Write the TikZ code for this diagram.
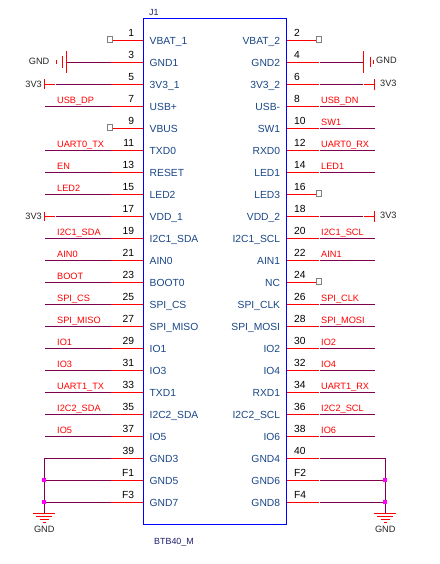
\documentclass[tikz,border=0pt]{standalone}
\usepackage{fontspec}
\setmainfont{Liberation Sans}
\definecolor{pinred}{RGB}{255,0,0}
\definecolor{wirepurple}{RGB}{128,0,80}
\definecolor{boxblue}{RGB}{0,0,255}
\definecolor{pintext}{RGB}{25,70,135}
\definecolor{navytext}{RGB}{30,30,110}
\definecolor{nctext}{RGB}{128,128,128}
\definecolor{dotpink}{RGB}{255,0,255}
\tikzset{
  pinline/.style={draw=pinred,line width=1pt},
  wire/.style={draw=wirepurple,line width=1pt},
  symbar/.style={draw=pinred,line width=1pt},
  pinname/.style={font=\fontsize{10.3}{12}\selectfont,text=pintext,inner sep=0pt},
  pinnum/.style={font=\fontsize{10.3}{12}\selectfont,text=black,inner sep=0pt},
  netlabel/.style={font=\fontsize{9.2}{11}\selectfont,text=pinred,inner sep=0pt,anchor=base west},
  powerlabel/.style={font=\fontsize{9.2}{11}\selectfont,text=black!85,inner sep=0pt},
  ncbox/.style={draw=nctext,line width=0.8pt,fill=white,minimum size=5.4pt,inner sep=0pt,rectangle},
  jdot/.style={fill=dotpink,draw=none,minimum size=4pt,inner sep=0pt,rectangle},
  titletext/.style={font=\fontsize{8.9}{11}\selectfont,text=navytext,inner sep=0pt,anchor=base west},
}
% row geometry: y = 40.3 + 22*row
\newcommand{\rowy}[1]{\pgfmathsetmacro{\ry}{40.3+22*#1}}
\newcommand{\leftpin}[3]{% row, number, name
  \rowy{#1}
  \coordinate (LP#2) at (143.3,\ry);
  \coordinate (LM#2) at (111,\ry);
  \coordinate (LE#2) at (45,\ry);
  \node[pinname,anchor=base west] (LN#2) at (149.5,\ry+4.2) {#3};
  \node[pinnum,anchor=base east] (LT#2) at (134.3,\ry-3.6) {#2};
}
\newcommand{\rightpin}[3]{% row, number, name
  \rowy{#1}
  \coordinate (RP#2) at (286.3,\ry);
  \coordinate (RM#2) at (319,\ry);
  \coordinate (RE#2) at (375,\ry);
  \node[pinname,anchor=base east] (RN#2) at (280.3,\ry+4.2) {#3};
  \node[pinnum,anchor=base west] (RT#2) at (294,\ry-3.6) {#2};
}
\newcommand{\leftnet}[4]{% row, number, name, net
  \leftpin{#1}{#2}{#3}
  \draw[wire] (LE#2) -- (LM#2);
  \draw[pinline] (LM#2) -- (LP#2);
  \node[netlabel] (LL#2) at (57,\ry-3) {#4};
}
\newcommand{\rightnet}[4]{%
  \rightpin{#1}{#2}{#3}
  \draw[pinline] (RP#2) -- (RM#2);
  \draw[wire] ([xshift=1pt]RM#2) -- (RE#2);
  \node[netlabel] (RL#2) at (321,\ry-3) {#4};
}
\newcommand{\leftnc}[3]{%
  \leftpin{#1}{#2}{#3}
  \node[ncbox] (LB#2) at (110,\ry-1) {};
  \draw[pinline] (LB#2.east |- LP#2) -- (LP#2);
}
\newcommand{\rightnc}[3]{%
  \rightpin{#1}{#2}{#3}
  \node[ncbox] (RB#2) at (319,\ry-1) {};
  \draw[pinline] (RP#2) -- (RB#2.west |- RP#2);
}
\newcommand{\leftvcc}[3]{%
  \leftpin{#1}{#2}{#3}
  \coordinate (LV#2) at (44.7,\ry);
  \coordinate (LS#2) at (55.3,\ry);
  \draw[wire] ([xshift=1pt]LS#2) -- (LM#2);
  \draw[pinline] (LM#2) -- (LP#2);
  \draw[symbar] (LV#2) -- (LS#2);
  \draw[symbar] ([yshift=-4.8pt]LV#2) -- ([yshift=4.8pt]LV#2);
  \node[powerlabel,anchor=base east] (LL#2) at (42,\ry+3.2) {3V3};
}
\newcommand{\rightvcc}[3]{%
  \rightpin{#1}{#2}{#3}
  \coordinate (RV#2) at (374.3,\ry);
  \coordinate (RS#2) at (363.5,\ry);
  \draw[pinline] (RP#2) -- (RM#2);
  \draw[wire] ([xshift=1pt]RM#2) -- ([xshift=-1pt]RS#2);
  \draw[symbar] (RS#2) -- (RV#2);
  \draw[symbar] ([yshift=-5.6pt]RV#2) -- ([yshift=5.6pt]RV#2);
  \node[powerlabel,anchor=base west] (RL#2) at (380,\ry+2.4) {3V3};
}
\newcommand{\gndstack}[3]{% id, x, y of top bar
  \coordinate (GT#1) at (#2,#3);
  \draw[symbar] ([xshift=-11pt]GT#1) -- ([xshift=11pt]GT#1);
  \draw[symbar] ([xshift=-8pt,yshift=-3pt]GT#1) -- ([xshift=8pt,yshift=-3pt]GT#1);
  \draw[symbar] ([xshift=-4.6pt,yshift=-6pt]GT#1) -- ([xshift=4.6pt,yshift=-6pt]GT#1);
  \draw[symbar] ([xshift=-1.4pt,yshift=-9pt]GT#1) -- ([xshift=1.4pt,yshift=-9pt]GT#1);
  \node[powerlabel,anchor=base] (GL#1) at (#2,#3+19) {GND};
}
\begin{document}
\begin{tikzpicture}[x=1pt,y=-1pt]
\useasboundingbox (0,0) rectangle (439,564);
\fill[white] (0,0) rectangle (439,564);

% pins, left column
\leftnc{0}{1}{VBAT\_1}
\leftpin{1}{3}{GND1}
\leftvcc{2}{5}{3V3\_1}
\leftnet{3}{7}{USB+}{USB\_DP}
\leftnc{4}{9}{VBUS}
\leftnet{5}{11}{TXD0}{UART0\_TX}
\leftnet{6}{13}{RESET}{EN}
\leftnet{7}{15}{LED2}{LED2}
\leftvcc{8}{17}{VDD\_1}
\leftnet{9}{19}{I2C1\_SDA}{I2C1\_SDA}
\leftnet{10}{21}{AIN0}{AIN0}
\leftnet{11}{23}{BOOT0}{BOOT}
\leftnet{12}{25}{SPI\_CS}{SPI\_CS}
\leftnet{13}{27}{SPI\_MISO}{SPI\_MISO}
\leftnet{14}{29}{IO1}{IO1}
\leftnet{15}{31}{IO3}{IO3}
\leftnet{16}{33}{TXD1}{UART1\_TX}
\leftnet{17}{35}{I2C2\_SDA}{I2C2\_SDA}
\leftnet{18}{37}{IO5}{IO5}
\leftpin{19}{39}{GND3}
\leftpin{20}{F1}{GND5}
\leftpin{21}{F3}{GND7}

% pins, right column
\rightnc{0}{2}{VBAT\_2}
\rightpin{1}{4}{GND2}
\rightvcc{2}{6}{3V3\_2}
\rightnet{3}{8}{USB-}{USB\_DN}
\rightnet{4}{10}{SW1}{SW1}
\rightnet{5}{12}{RXD0}{UART0\_RX}
\rightnet{6}{14}{LED1}{LED1}
\rightnc{7}{16}{LED3}
\rightvcc{8}{18}{VDD\_2}
\rightnet{9}{20}{I2C1\_SCL}{I2C1\_SCL}
\rightnet{10}{22}{AIN1}{AIN1}
\rightnc{11}{24}{NC}
\rightnet{12}{26}{SPI\_CLK}{SPI\_CLK}
\rightnet{13}{28}{SPI\_MOSI}{SPI\_MOSI}
\rightnet{14}{30}{IO2}{IO2}
\rightnet{15}{32}{IO4}{IO4}
\rightnet{16}{34}{RXD1}{UART1\_RX}
\rightnet{17}{36}{I2C2\_SCL}{I2C2\_SCL}
\rightnet{18}{38}{IO6}{IO6}
\rightpin{19}{40}{GND4}
\rightpin{20}{F2}{GND6}
\rightpin{21}{F4}{GND8}

% GND on pin 3
\coordinate (G3a) at (66.7,62.3);
\draw[wire] (G3a) -- (LM3);
\draw[pinline] (LM3) -- (LP3);
\draw[symbar] (66.7,51) -- (66.7,72.7);
\draw[symbar] (62.7,56.5) -- (62.7,68);
\draw[symbar] (56.9,60.5) -- (56.9,64);
\node[powerlabel,anchor=base east] (GND3L) at (49.5,64.7) {GND};

% GND on pin 4
\coordinate (G4a) at (363.5,62.3);
\draw[pinline] (RP4) -- (RM4);
\draw[wire] ([xshift=1pt]RM4) -- (G4a);
\draw[symbar] (363.5,51.5) -- (363.5,73);
\draw[symbar] (370.4,57) -- (370.4,67.5);
\draw[symbar] (373.3,60.5) -- (373.3,64);
\node[powerlabel,anchor=base west] (GND4L) at (376,63.7) {GND};

% left ground bus
\foreach \p in {39,F1,F3}{
  \draw[wire] (44.3,0 |- LP\p) -- (LM\p);
  \draw[pinline] (LM\p) -- (LP\p);
}
\coordinate (BL) at (44.3,513.3);
\draw[wire] (44.3,0 |- LP39) -- (BL);
\gndstack{L}{44.3}{513.3}
\node[jdot] (JL1) at (44,479.7) {};
\node[jdot] (JL2) at (44,501.7) {};

% right ground bus
\foreach \p in {40,F2,F4}{
  \draw[pinline] (RP\p) -- (RM\p);
  \draw[wire] ([xshift=1pt]RM\p) -- (385.3,0 |- RP\p);
}
\coordinate (BR) at (385.3,513.3);
\draw[wire] (385.3,0 |- RP40) -- (BR);
\gndstack{R}{385.3}{513.3}
\node[jdot] (JR1) at (385,479.7) {};
\node[jdot] (JR2) at (385,501.7) {};

% body
\draw[draw=boxblue,line width=1pt] (143.3,18.3) rectangle (286.3,524.3);
\node[titletext] (J1) at (149,15.7) {J1};
\node[titletext] (PART) at (154,544) {BTB40\_M};
\end{tikzpicture}
\end{document}
